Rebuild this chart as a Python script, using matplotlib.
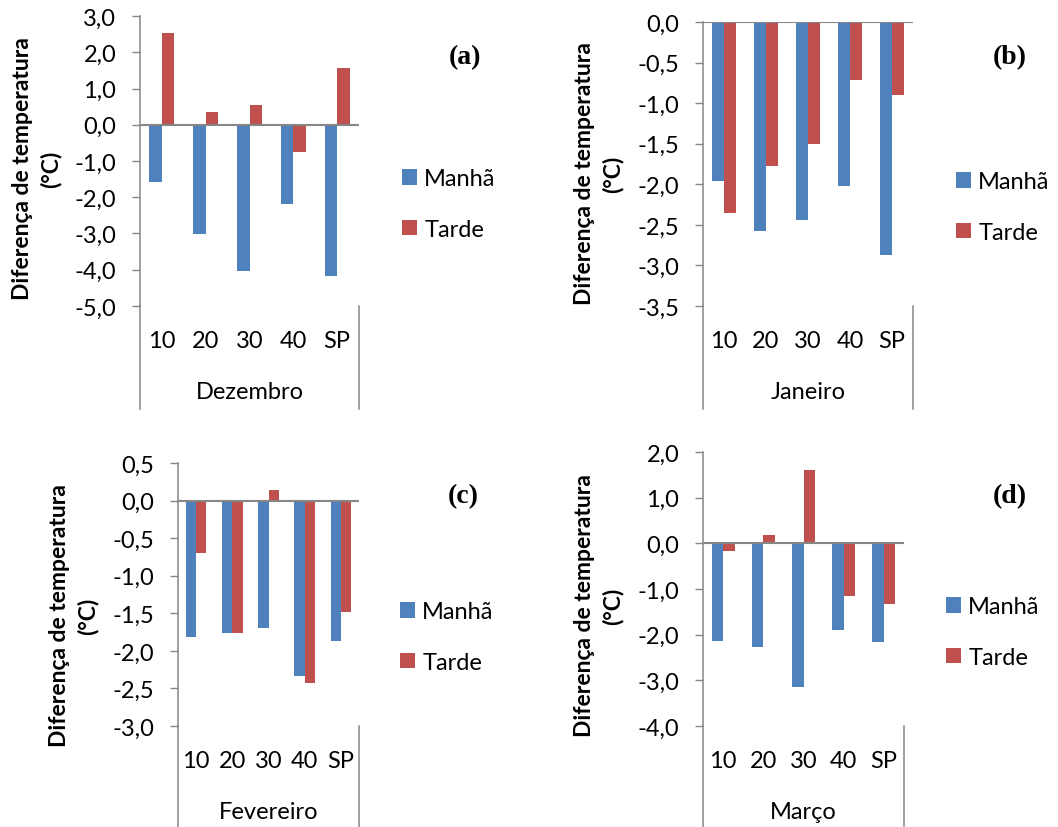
import matplotlib
matplotlib.use('Agg')
import matplotlib.pyplot as plt
import matplotlib.transforms as mtransforms
import numpy as np

plt.rcParams['font.family'] = ['Lato', 'DejaVu Sans']

# ---- dados ----
categorias = ['10', '20', '30', '40', 'SP']
meses = ['Dezembro', 'Janeiro', 'Fevereiro', 'Março']
letras = ['(a)', '(b)', '(c)', '(d)']

manha_dez = [-1.59, -3.02, -4.03, -2.18, -4.17]
tarde_dez = [2.53, 0.36, 0.55, -0.76, 1.56]
manha_jan = [-1.96, -2.58, -2.44, -2.02, -2.87]
tarde_jan = [-2.35, -1.77, -1.50, -0.71, -0.90]
manha_fev = [-1.82, -1.76, -1.69, -2.33, -1.87]
tarde_fev = [-0.70, -1.76, 0.14, -2.43, -1.48]
manha_mar = [-2.14, -2.28, -3.15, -1.90, -2.17]
tarde_mar = [-0.16, 0.18, 1.61, -1.16, -1.32]

manha = [manha_dez, manha_jan, manha_fev, manha_mar]
tarde = [tarde_dez, tarde_jan, tarde_fev, tarde_mar]

# limites do eixo y: (min, max, passo)
ylims = [(-5.0, 3.0, 1.0), (-3.5, 0.0, 0.5), (-3.0, 0.5, 0.5), (-4.0, 2.0, 1.0)]

# ---- layout em pixels (esq, dir, topo, base) ----
W, H = 1058, 828
caixas = [(140, 359, 17, 307), (703, 913, 23, 307),
          (178, 359, 464, 727), (703, 904, 453, 727)]
ylabel_pos = [(37, 169), (599, 174), (74, 616), (599, 606)]
letra_pos = [(465, 58), (1010, 58), (463, 497), (1010, 497)]
legenda_pos = [(402, 205), (956, 208), (400, 638), (946, 633)]

AZUL = '#4F81BD'
VERM = '#C0504D'
CINZA = '#868686'
FS = 17

fig = plt.figure(figsize=(W / 100, H / 100), dpi=100)

def fmt(v):
    return f'{v:.1f}'.replace('.', ',')

x = np.arange(len(categorias))
w = 0.2857

for k in range(4):
    l, r, t, b = caixas[k]
    ax = fig.add_axes([l / W, 1 - b / H, (r - l) / W, (b - t) / H])
    ax.bar(x - w / 2, manha[k], w, color=AZUL, label='Manhã', zorder=2)
    ax.bar(x + w / 2, tarde[k], w, color=VERM, label='Tarde', zorder=2)
    ymin, ymax, passo = ylims[k]
    ax.set_ylim(ymin, ymax)
    ax.set_xlim(-0.5, len(categorias) - 0.5)
    ticks = np.arange(ymin, ymax + passo / 2, passo)
    ax.set_yticks(ticks)
    ax.set_yticklabels([fmt(v) for v in ticks], fontsize=FS)
    ax.tick_params(axis='y', length=6, width=1, color=CINZA, pad=11)
    ax.set_xticks([])
    for s in ['top', 'right', 'bottom']:
        ax.spines[s].set_visible(False)
    ax.spines['left'].set_color(CINZA)
    ax.spines['left'].set_linewidth(1.1)
    ax.axhline(0, color=CINZA, lw=1.5, zorder=3)

    # rótulos de categoria e do mês abaixo
    hpx = b - t
    tr = ax.get_xaxis_transform()
    off_cat = mtransforms.ScaledTranslation(0, -35 / 100, fig.dpi_scale_trans)
    off_mes = mtransforms.ScaledTranslation(0, -86 / 100, fig.dpi_scale_trans)
    for i, c in enumerate(categorias):
        ax.text(x[i], 0, c, transform=tr + off_cat, ha='center', va='center',
                fontsize=FS)
    ax.text(2, 0, meses[k], transform=tr + off_mes, ha='center', va='center',
            fontsize=FS)
    ybase = -103 / hpx
    ax.plot([0, 0], [0, ybase], transform=ax.transAxes, color=CINZA,
            lw=1.1, clip_on=False)
    ax.plot([1, 1], [0, ybase], transform=ax.transAxes, color=CINZA,
            lw=1.1, clip_on=False)

    lx, ly = legenda_pos[k]
    ax.legend(loc='center left', bbox_to_anchor=(lx / W, 1 - ly / H),
              bbox_transform=fig.transFigure, frameon=False, fontsize=FS,
              handlelength=0.64, handleheight=0.64, handletextpad=0.3,
              labelspacing=1.25, borderpad=0, borderaxespad=0)

    yx, yy = ylabel_pos[k]
    fig.text(yx / W, 1 - yy / H, 'Diferença de temperatura\n(°C)',
             rotation=90, ha='center', va='center', multialignment='center',
             fontsize=16.5, fontweight='bold', linespacing=1.4)
    px, py = letra_pos[k]
    fig.text(px / W, 1 - py / H, letras[k], ha='center', va='center',
             fontsize=20, fontweight='bold', family='Liberation Serif')

fig.savefig('out.png', dpi=100)
